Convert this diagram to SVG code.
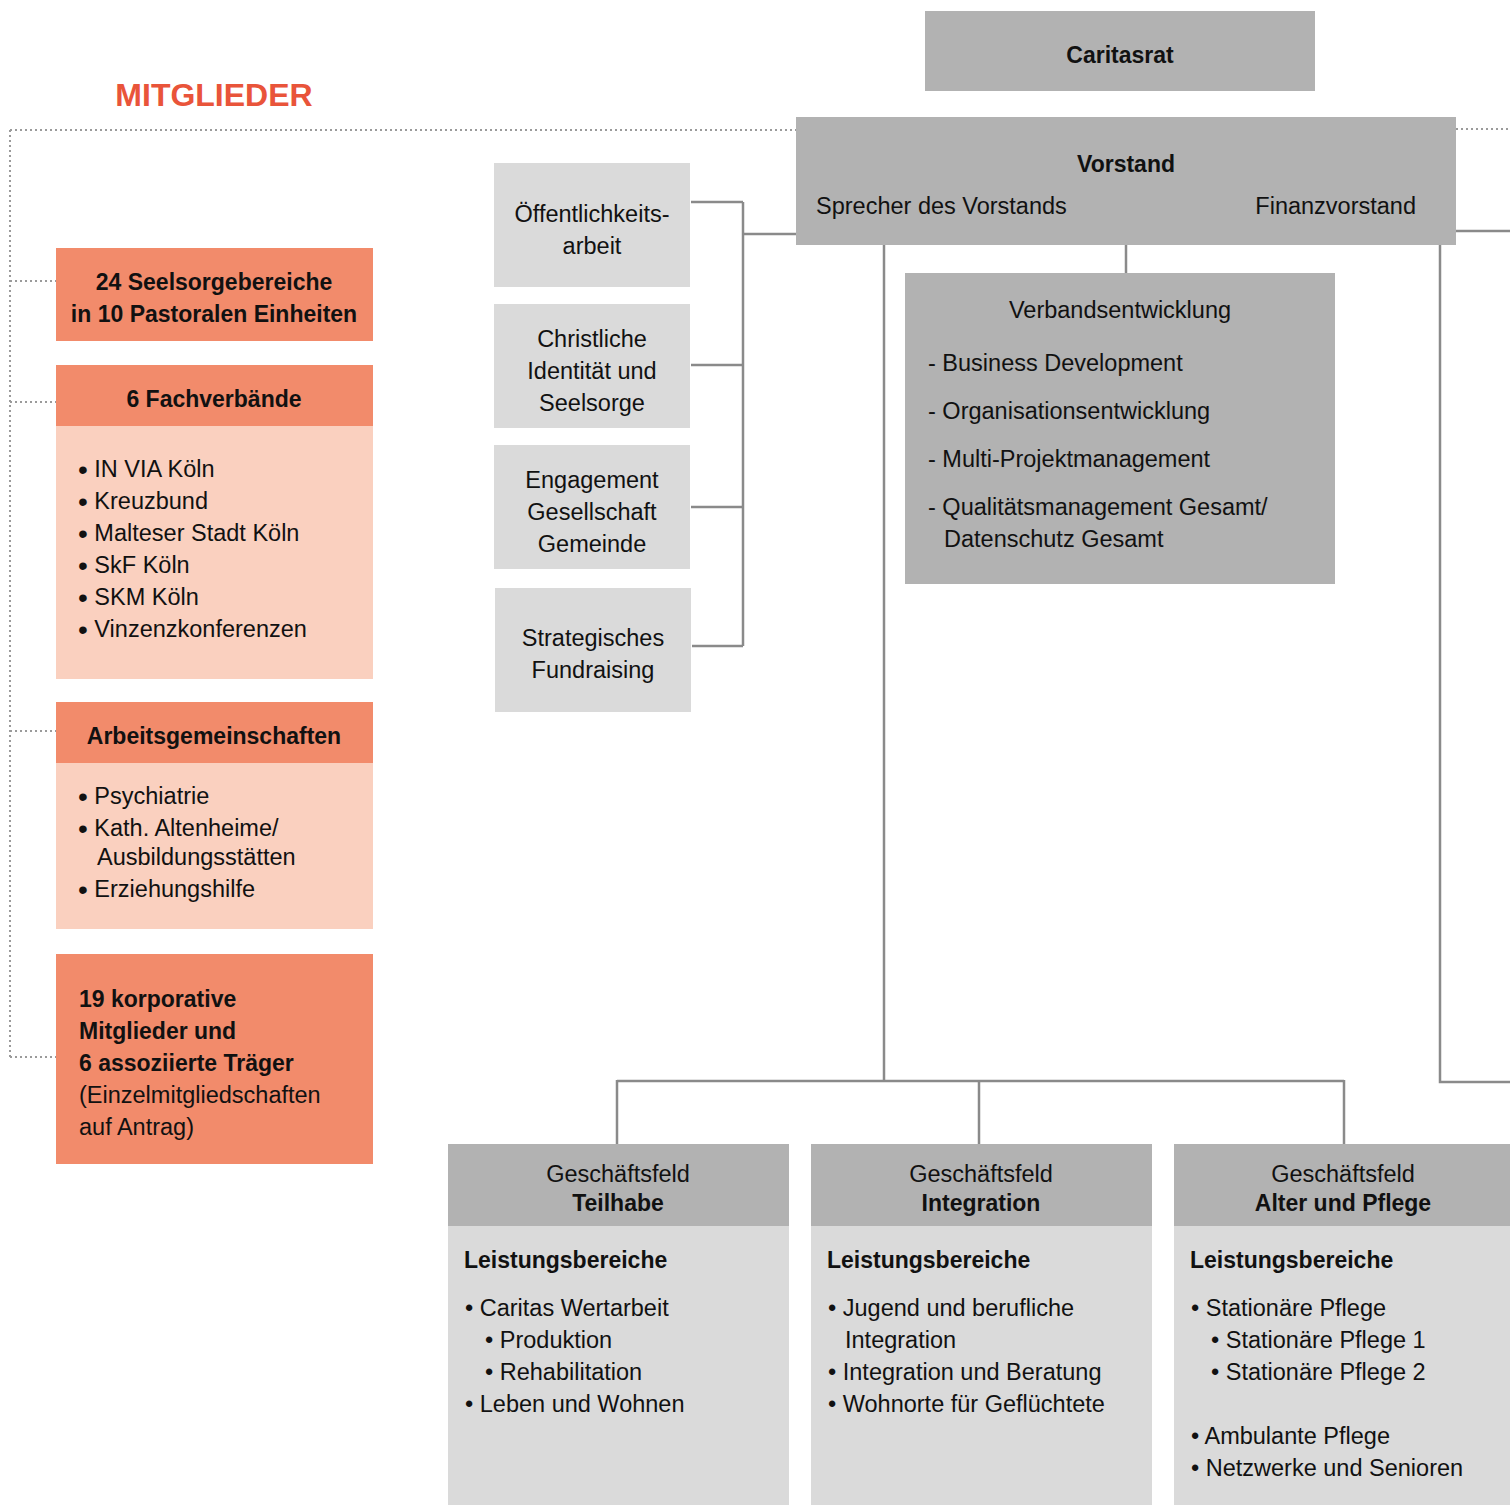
<svg xmlns="http://www.w3.org/2000/svg" width="1510" height="1505" viewBox="0 0 1510 1505">
<style>
text{font-family:"Liberation Sans",Arial,sans-serif;font-size:23.5px;fill:#111}
.b{font-weight:bold;font-size:23px}
.c{text-anchor:middle}
.bl{font-size:28px;baseline-shift:-2px}
.dk{fill:#b2b2b2}
.lt{fill:#dadada}
.or{fill:#f28b6b}
.pl{fill:#fad0bf}
.ln{stroke:#8a8a8a;stroke-width:2.5;fill:none}
.dt{stroke:#9a9a9a;stroke-width:2;stroke-dasharray:2 3;fill:none}
</style>
<rect width="1510" height="1505" fill="#fff"/>
<text x="214" y="106" class="b c" style="font-size:32px;fill:#e9543a">MITGLIEDER</text>

<g id="connectors">
<path class="dt" d="M10 130H796M1456 129H1510M10 130V1057M10 281H56M10 402H56M10 731H56M10 1057H56"/>
<path class="ln" d="M691 202H743M691 365H743M691 507H743M692 646H743M743 202V646M743 234H796"/>
<path class="ln" d="M1126 245V273M884 245V1081M617 1081H1344M617 1080V1144M979 1080V1144M1344 1080V1144"/>
<path class="ln" d="M1440 245V1082H1510M1456 231H1510"/>
</g>

<g id="caritasrat"><rect x="925" y="11" width="390" height="80" class="dk"/><text x="1120" y="63" class="b c">Caritasrat</text></g>
<g id="vorstand"><rect x="796" y="117" width="660" height="128" class="dk"/>
<text x="1126" y="172" class="b c">Vorstand</text>
<text x="816" y="214">Sprecher des Vorstands</text>
<text x="1416" y="214" style="text-anchor:end">Finanzvorstand</text></g>

<g id="oeffentlichkeit"><rect x="494" y="163" width="196" height="124" class="lt"/><text x="592" y="222" class="c">Öffentlichkeits-</text><text x="592" y="254" class="c">arbeit</text></g>
<g id="christliche"><rect x="494" y="304" width="196" height="124" class="lt"/><text x="592" y="347" class="c">Christliche</text><text x="592" y="379" class="c">Identität und</text><text x="592" y="411" class="c">Seelsorge</text></g>
<g id="engagement"><rect x="494" y="445" width="196" height="124" class="lt"/><text x="592" y="488" class="c">Engagement</text><text x="592" y="520" class="c">Gesellschaft</text><text x="592" y="552" class="c">Gemeinde</text></g>
<g id="fundraising"><rect x="495" y="588" width="196" height="124" class="lt"/><text x="593" y="646" class="c">Strategisches</text><text x="593" y="678" class="c">Fundraising</text></g>

<g id="verbandsentwicklung"><rect x="905" y="273" width="430" height="311" class="dk"/>
<text x="1120" y="318" class="c">Verbandsentwicklung</text>
<text x="928" y="371">- Business Development</text>
<text x="928" y="419">- Organisationsentwicklung</text>
<text x="928" y="467">- Multi-Projektmanagement</text>
<text x="928" y="515">- Qualitätsmanagement Gesamt/</text>
<text x="944" y="547">Datenschutz Gesamt</text></g>

<g id="seelsorgebereiche"><rect x="56" y="248" width="317" height="93" class="or"/>
<text x="214" y="290" class="b c">24 Seelsorgebereiche</text><text x="214" y="322" class="b c">in 10 Pastoralen Einheiten</text></g>
<g id="fachverbaende"><rect x="56" y="365" width="317" height="61" class="or"/><rect x="56" y="426" width="317" height="253" class="pl"/>
<text x="214" y="407" class="b c">6 Fachverbände</text>
<text x="78" y="477"><tspan class="bl">•</tspan> IN VIA Köln</text><text x="78" y="509"><tspan class="bl">•</tspan> Kreuzbund</text><text x="78" y="541"><tspan class="bl">•</tspan> Malteser Stadt Köln</text><text x="78" y="573"><tspan class="bl">•</tspan> SkF Köln</text><text x="78" y="605"><tspan class="bl">•</tspan> SKM Köln</text><text x="78" y="637"><tspan class="bl">•</tspan> Vinzenzkonferenzen</text></g>
<g id="arbeitsgemeinschaften"><rect x="56" y="702" width="317" height="61" class="or"/><rect x="56" y="763" width="317" height="166" class="pl"/>
<text x="214" y="744" class="b c">Arbeitsgemeinschaften</text>
<text x="78" y="804"><tspan class="bl">•</tspan> Psychiatrie</text><text x="78" y="836"><tspan class="bl">•</tspan> Kath. Altenheime/</text><text x="97" y="865">Ausbildungsstätten</text><text x="78" y="897"><tspan class="bl">•</tspan> Erziehungshilfe</text></g>
<g id="korporative"><rect x="56" y="954" width="317" height="210" class="or"/>
<text x="79" y="1007" class="b">19 korporative</text><text x="79" y="1039" class="b">Mitglieder und</text><text x="79" y="1071" class="b">6 assoziierte Träger</text><text x="79" y="1103">(Einzelmitgliedschaften</text><text x="79" y="1135">auf Antrag)</text></g>

<g id="teilhabe"><rect x="448" y="1144" width="341" height="82" class="dk"/><rect x="448" y="1226" width="341" height="279" class="lt"/>
<text x="618" y="1182" class="c">Geschäftsfeld</text><text x="618" y="1211" class="b c">Teilhabe</text>
<text x="464" y="1268" class="b">Leistungsbereiche</text>
<text x="465" y="1316">• Caritas Wertarbeit</text><text x="485" y="1348">• Produktion</text><text x="485" y="1380">• Rehabilitation</text><text x="465" y="1412">• Leben und Wohnen</text></g>
<g id="integration"><rect x="811" y="1144" width="341" height="82" class="dk"/><rect x="811" y="1226" width="341" height="279" class="lt"/>
<text x="981" y="1182" class="c">Geschäftsfeld</text><text x="981" y="1211" class="b c">Integration</text>
<text x="827" y="1268" class="b">Leistungsbereiche</text>
<text x="828" y="1316">• Jugend und berufliche</text><text x="845" y="1348">Integration</text><text x="828" y="1380">• Integration und Beratung</text><text x="828" y="1412">• Wohnorte für Geflüchtete</text></g>
<g id="alterpflege"><rect x="1174" y="1144" width="336" height="82" class="dk"/><rect x="1174" y="1226" width="336" height="279" class="lt"/>
<text x="1343" y="1182" class="c">Geschäftsfeld</text><text x="1343" y="1211" class="b c">Alter und Pflege</text>
<text x="1190" y="1268" class="b">Leistungsbereiche</text>
<text x="1191" y="1316">• Stationäre Pflege</text><text x="1211" y="1348">• Stationäre Pflege 1</text><text x="1211" y="1380">• Stationäre Pflege 2</text><text x="1191" y="1444">• Ambulante Pflege</text><text x="1191" y="1476">• Netzwerke und Senioren</text></g>
</svg>
